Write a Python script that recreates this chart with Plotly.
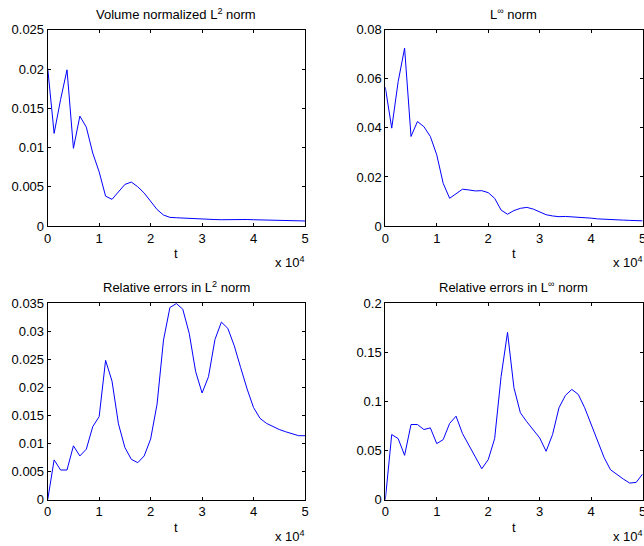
import plotly.graph_objects as go

t = [0, 1250, 2500, 3750, 5000, 6250, 7500, 8750, 10000, 11250, 12500, 13750,
     15000, 16250, 17500, 18750, 20000, 21250, 22500, 23750, 25000, 26250,
     27500, 28750, 30000, 31250, 32500, 33750, 35000, 36250, 37500, 38750,
     40000, 41250, 42500, 43750, 45000, 46250, 47500, 48750, 50000]

l2_norm = [0.0201, 0.0118, 0.0161, 0.0199, 0.0099, 0.0140, 0.0126, 0.0093,
           0.0069, 0.0038, 0.0034, 0.0044, 0.0053, 0.0056, 0.0050, 0.0042,
           0.0032, 0.0021, 0.0014, 0.0011, 0.00105, 0.0010, 0.00095, 0.0009,
           0.00088, 0.00085, 0.00082, 0.0008, 0.00082, 0.00085, 0.00085,
           0.00083, 0.0008, 0.00079, 0.00078, 0.00077, 0.00075, 0.00073,
           0.0007, 0.00067, 0.00064]

linf_norm = [0.0566, 0.0399, 0.0589, 0.0725, 0.0365, 0.0426, 0.0405, 0.0365,
             0.0290, 0.0174, 0.0113, 0.0131, 0.0150, 0.0147, 0.0143, 0.0144,
             0.0136, 0.0113, 0.0065, 0.0048, 0.0063, 0.0072, 0.0076, 0.0069,
             0.0056, 0.0046, 0.0041, 0.0038, 0.0039, 0.0038, 0.0036, 0.0034,
             0.0032, 0.0029, 0.0027, 0.0025, 0.0024, 0.0024, 0.0023, 0.0022,
             0.0021]

rel_l2 = [0.0, 0.0071, 0.0053, 0.0053, 0.0096, 0.0078, 0.0090, 0.0130,
          0.0148, 0.0248, 0.0211, 0.0135, 0.0093, 0.0072, 0.0066, 0.0078,
          0.0108, 0.0170, 0.0284, 0.0342, 0.0349, 0.0339, 0.0296, 0.0228,
          0.0190, 0.0219, 0.0285, 0.0316, 0.0305, 0.0274, 0.0235, 0.0197,
          0.0164, 0.0145, 0.0136, 0.0130, 0.0125, 0.0121, 0.0117, 0.0114,
          0.0114]

rel_linf = [0.0, 0.0663, 0.0622, 0.0452, 0.0765, 0.0765, 0.0714, 0.0731,
            0.0571, 0.0612, 0.0776, 0.0850, 0.0673, 0.0551, 0.0432, 0.0316,
            0.0408, 0.0622, 0.1252, 0.1701, 0.1139, 0.0884, 0.0793, 0.0714,
            0.0629, 0.0493, 0.0663, 0.0935, 0.1061, 0.1122, 0.1071, 0.0935,
            0.0765, 0.0588, 0.0432, 0.0306, 0.0255, 0.0211, 0.0170, 0.0177,
            0.0262]

titles = ["Volume normalized L<sup>2</sup> norm", "L<sup>\u221e</sup> norm",
          "Relative errors in L<sup>2</sup> norm", "Relative errors in L<sup>\u221e</sup> norm"]

x_tickvals = [0, 10000, 20000, 30000, 40000, 50000]
x_ticktext = ["0", "1", "2", "3", "4", "5"]

y_ranges = [[0, 0.025], [0, 0.08], [0, 0.035], [0, 0.2]]
y_ticks = [
    [0, 0.005, 0.01, 0.015, 0.02, 0.025],
    [0, 0.02, 0.04, 0.06, 0.08],
    [0, 0.005, 0.01, 0.015, 0.02, 0.025, 0.03, 0.035],
    [0, 0.05, 0.1, 0.15, 0.2],
]
y_ticktext = [
    ["0", "0.005", "0.01", "0.015", "0.02", "0.025"],
    ["0", "0.02", "0.04", "0.06", "0.08"],
    ["0", "0.005", "0.01", "0.015", "0.02", "0.025", "0.03", "0.035"],
    ["0", "0.05", "0.1", "0.15", "0.2"],
]
series = [l2_norm, linf_norm, rel_l2, rel_linf]

W, H = 644, 546
x_doms = [[47.7 / W, 305.0 / W], [385.3 / W, 642.6 / W]]
y_doms = [[1 - 226.0 / H, 1 - 29.8 / H], [1 - 499.8 / H, 1 - 303.0 / H]]

FONT = "Liberation Sans, Arial, Helvetica, sans-serif"
FS = 13

fig = go.Figure()
annotations = []
layout = {}
for i in range(4):
    row, col = divmod(i, 2)
    xa = "x" if i == 0 else f"x{i+1}"
    ya = "y" if i == 0 else f"y{i+1}"
    fig.add_trace(go.Scatter(x=t, y=series[i], mode="lines",
                             line=dict(color="#0000ff", width=1),
                             xaxis=xa, yaxis=ya, showlegend=False))
    axis_common = dict(showline=True, linecolor="black", linewidth=1,
                       mirror="ticks", ticks="inside", ticklen=3,
                       tickcolor="black", showgrid=False, zeroline=False,
                       automargin=False, ticklabeloverflow="allow",
                       tickfont=dict(family=FONT, size=FS, color="black"))
    layout["xaxis" if i == 0 else f"xaxis{i+1}"] = dict(
        domain=x_doms[col], anchor=ya, range=[0, 50000],
        tickmode="array", tickvals=x_tickvals, ticktext=x_ticktext,
        **axis_common)
    layout["yaxis" if i == 0 else f"yaxis{i+1}"] = dict(
        domain=y_doms[row], anchor=xa, range=y_ranges[i],
        tickmode="array", tickvals=y_ticks[i], ticktext=y_ticktext[i],
        **axis_common)
    xd, yd = x_doms[col], y_doms[row]
    xc = (xd[0] + xd[1]) / 2
    # title
    annotations.append(dict(text=titles[i], x=xc, y=yd[1], xref="paper", yref="paper",
                            xanchor="center", yanchor="bottom", yshift=6, showarrow=False,
                            font=dict(family=FONT, size=FS, color="black")))
    # x label
    annotations.append(dict(text="t", x=xc, y=yd[0], xref="paper", yref="paper",
                            xanchor="center", yanchor="top", yshift=-18, showarrow=False,
                            font=dict(family=FONT, size=FS, color="black")))
    # exponent label
    annotations.append(dict(text="x 10<sup>4</sup>", x=xd[1], y=yd[0], xref="paper",
                            yref="paper", xanchor="right", yanchor="top", yshift=-26,
                            xshift=2, showarrow=False,
                            font=dict(family=FONT, size=FS, color="black")))

fig.update_layout(width=W, height=H, margin=dict(l=0, r=0, t=0, b=0, autoexpand=False),
                  paper_bgcolor="white", plot_bgcolor="white",
                  annotations=annotations, **layout)
fig.write_html("out.html")
